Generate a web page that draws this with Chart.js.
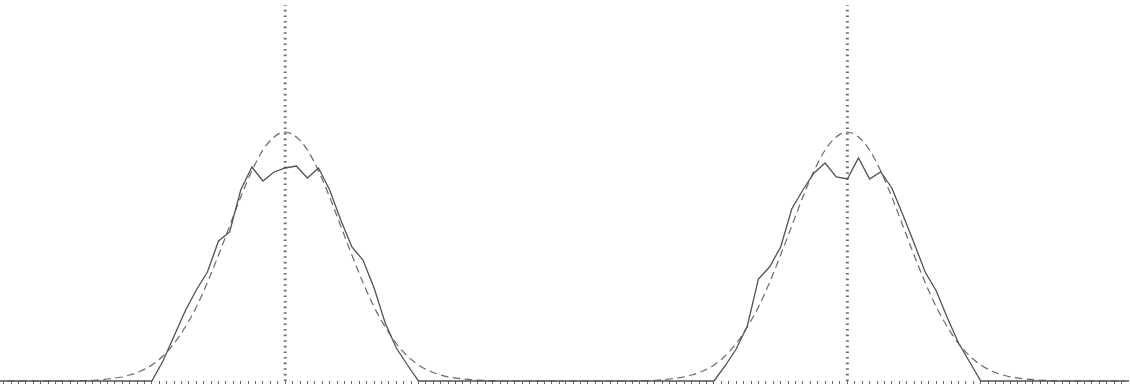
<!DOCTYPE html>
<html><head><meta charset="utf-8">
<script src="https://cdn.jsdelivr.net/npm/chart.js@4.4.0/dist/chart.umd.min.js"></script>
<style>
html,body{margin:0;padding:0;background:#fff;overflow:hidden;width:1130px;height:386px}
#left{position:absolute;left:0;top:0}
#right{position:absolute;left:562px;top:0}
</style></head>
<body>
<canvas id="left" width="563" height="386"></canvas>
<canvas id="right" width="567" height="386"></canvas>
<script>
// Bin centres (x units; one bin = 3 units, centre = 0)
const binCenters = [-36,-33,-30,-27,-24,-21,-18,-15,-12,-9,-6,-3,0,3,6,9,12,15,18,21,24,27,30,33,36];
// Observed frequency polygon, left panel
const leftObserved = [0,2.0,4.5,7.0,9.1,10.9,14.0,14.9,19.1,21.4,20.0,20.9,21.3,21.5,20.3,21.3,19.1,16.1,13.4,12.1,9.3,5.8,3.3,1.6,0];
// Observed frequency polygon, right panel
const rightObserved = [0,1.5,3.2,5.5,10.2,11.4,13.4,17.2,19.1,20.8,21.8,20.4,20.2,22.3,20.2,20.9,19.3,16.6,13.8,10.9,9.0,6.3,3.8,1.9,0];
// Fitted normal curve (same in both panels), x = -75..75 step 3
const fitX = [-75,-72,-69,-66,-63,-60,-57,-54,-51,-48,-45,-42,-39,-36,-33,-30,-27,-24,-21,-18,-15,-12,-9,-6,-3,0,3,6,9,12,15,18,21,24,27,30,33,36,39,42,45,48,51,54,57,60,63,66,69,72,75];
const normalFit = [0,0,0,0,0,0,0,0.05,0.1,0.2,0.35,0.6,1.0,1.6,2.5,3.75,5.4,7.4,9.85,12.6,15.5,18.4,21.0,23.1,24.4,24.9,24.4,23.1,21.0,18.4,15.5,12.6,9.85,7.4,5.4,3.75,2.5,1.6,1.0,0.6,0.35,0.2,0.1,0.05,0,0,0,0,0,0,0];
// Mean marker line
const meanX = 0;
const meanLineTop = 37.6;
const yMax = 38.1;

function makeChart(id, observed, xMin, xMax) {
  const solid = [{x: xMin, y: 0}].concat(binCenters.map((x, i) => ({x, y: observed[i]})), [{x: xMax, y: 0}]);
  const dashed = fitX.map((x, i) => ({x, y: normalFit[i]}));
  const tickVals = [];
  for (let v = Math.ceil(xMin / 2) * 2; v <= xMax; v += 2) tickVals.push(v);
  new Chart(document.getElementById(id), {
    type: 'line',
    data: {
      datasets: [
        {data: [{x: meanX, y: 0}, {x: meanX, y: meanLineTop}], borderColor: '#6e6e6e', borderWidth: 3, borderDash: [1.6, 4], pointRadius: 0, order: 3, clip: false},
        {data: dashed, borderColor: '#6a6a6a', borderWidth: 1.2, borderDash: [7.5, 4.5], pointRadius: 0, cubicInterpolationMode: 'monotone', order: 2, clip: false},
        {data: solid, borderColor: '#525252', borderWidth: 1.3, pointRadius: 0, tension: 0, order: 1, clip: false}
      ]
    },
    options: {
      responsive: false,
      animation: false,
      devicePixelRatio: 1,
      layout: {padding: {left: 0, right: 0, top: 0, bottom: 2}},
      plugins: {legend: {display: false}, tooltip: {enabled: false}},
      scales: {
        x: {
          type: 'linear', min: xMin, max: xMax,
          afterBuildTicks: axis => { axis.ticks = tickVals.map(v => ({value: v})); },
          grid: {drawOnChartArea: false, drawTicks: true, tickLength: 3, color: '#666', lineWidth: 1},
          border: {display: false},
          ticks: {display: false, autoSkip: false}
        },
        y: {type: 'linear', min: 0, max: yMax, display: false}
      }
    }
  });
}
makeChart('left', leftObserved, -77, 75);
makeChart('right', rightObserved, -77, 76);
</script>
</body></html>
